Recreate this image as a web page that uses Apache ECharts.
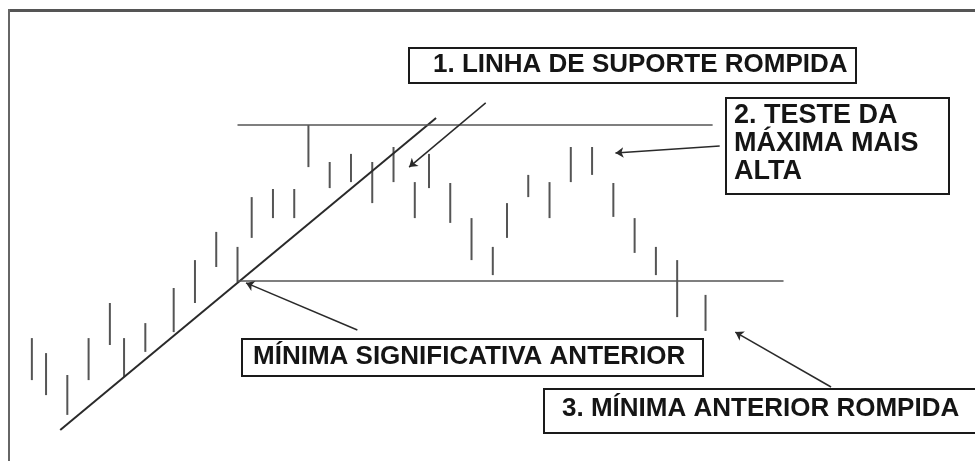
<!DOCTYPE html>
<html>
<head>
<meta charset="utf-8">
<script src="https://cdn.jsdelivr.net/npm/echarts@6/dist/echarts.min.js"></script>
<style>
  html, body { margin: 0; padding: 0; background: #fff; }
  #main { width: 975px; height: 461px; }
</style>
</head>
<body>
<div id="main"></div>
<script>
// posição de cada barra (dias, com lacunas) e máxima / mínima
const barX = [0, 2, 5, 8, 11, 13, 16, 20, 23, 26, 29, 31, 34, 37, 39, 42, 45, 48, 51, 54, 56, 59, 62, 65, 67, 70, 73, 76, 79, 82, 85, 88, 91, 95]
const barHigh = [37.3, 32.3, 25, 37.3, 49, 37.3, 42.3, 54, 63.3, 72.7, 67.7, 84.3, 87, 87, 108.3, 96, 98.7, 96, 101, 89.3, 98.7, 89, 77.3, 67.7, 82.3, 91.7, 89.3, 101, 101, 89, 77.3, 67.7, 63.3, 51.7]
const barLow = [23.3, 18.3, 11.7, 23.3, 35, 24.3, 32.7, 39.3, 49, 61, 56, 70.7, 77.3, 77.3, 94.3, 87.3, 89.3, 82.3, 89.3, 77.3, 87.3, 75.7, 63.3, 58.3, 70.7, 84.3, 77.3, 89.3, 91.7, 77.7, 65.7, 58.3, 44.3, 39.7]

// linhas de referência
const trendLine = [[4, 6.7], [57, 110.7]]
const resistanceLine = [[29, 108.3], [96, 108.3]]
const supportLine = [[29, 56.3], [106, 56.3]]

// setas (origem -> ponta)
const arrows = [
  [[64, 115.7], [53.2, 94.3]],
  [[97, 101.3], [82.3, 99]],
  [[45.9, 40], [30.2, 55.7]],
  [[112.7, 21], [99.2, 39.3]],
]

const labels = {
  suporte: '1. LINHA DE SUPORTE ROMPIDA',
  teste: ['2. TESTE DA', 'MÁXIMA MAIS', 'ALTA'],
  minima: 'MÍNIMA SIGNIFICATIVA ANTERIOR',
  rompida: '3. MÍNIMA ANTERIOR ROMPIDA',
}

const font = '"Liberation Sans", Arial, sans-serif'

const bars = barX.map((x, i) => [x, barLow[i], barHigh[i]])

function box(left, top, width, height) {
  return {
    type: 'rect',
    left, top,
    shape: { width, height },
    style: { fill: '#fff', stroke: '#1a1a1a', lineWidth: 2 },
    z: 10,
  }
}
function text(x, y, str, size) {
  return {
    type: 'text',
    x, y,
    style: {
      text: str,
      font: 'bold ' + (size || 26) + 'px ' + font,
      fill: '#151515',
      verticalAlign: 'middle',
    },
    z: 11,
  }
}

const chart = echarts.init(document.getElementById('main'))
const option = {
  animation: false,
  backgroundColor: '#fff',
  grid: { left: 3.5, top: 0, width: 974, height: 450 },
  xAxis: { type: 'value', min: -4, max: 133, show: false },
  yAxis: { type: 'value', min: 0, max: 150, show: false },
  series: [
    {
      type: 'custom',
      data: bars,
      renderItem(params, api) {
        const top = api.coord([api.value(0), api.value(2)])
        const bot = api.coord([api.value(0), api.value(1)])
        return {
          type: 'line',
          shape: { x1: top[0], y1: top[1], x2: bot[0], y2: bot[1] },
          style: { stroke: '#555', lineWidth: 2 },
        }
      },
    },
    {
      type: 'lines',
      coordinateSystem: 'cartesian2d',
      lineStyle: { color: '#2a2a2a', width: 2, opacity: 1 },
      data: [{ coords: trendLine }],
    },
    {
      type: 'lines',
      coordinateSystem: 'cartesian2d',
      lineStyle: { color: '#555', width: 1.5, opacity: 1 },
      data: [{ coords: resistanceLine }, { coords: supportLine }],
    },
    {
      type: 'lines',
      coordinateSystem: 'cartesian2d',
      symbol: ['none', 'arrow'],
      symbolSize: 8,
      lineStyle: { color: '#2a2a2a', width: 1.5, opacity: 1 },
      data: arrows.map(a => ({ coords: a })),
    },
  ],
  graphic: [
    // moldura
    { type: 'rect', left: 8, top: 9, shape: { width: 967, height: 3 }, style: { fill: '#555' } },
    { type: 'rect', left: 8, top: 9, shape: { width: 2, height: 452 }, style: { fill: '#666' } },

    box(408, 47, 447, 35),
    text(433, 65, labels.suporte),

    box(725, 97, 223, 96),
    text(734, 116, labels.teste[0], 27),
    text(734, 144, labels.teste[1], 27),
    text(734, 172, labels.teste[2], 27),

    box(241, 338, 461, 37),
    text(253, 357, labels.minima),

    box(543, 388, 440, 44),
    text(562, 409, labels.rompida),
  ],
}
option && chart.setOption(option)
</script>
</body>
</html>
